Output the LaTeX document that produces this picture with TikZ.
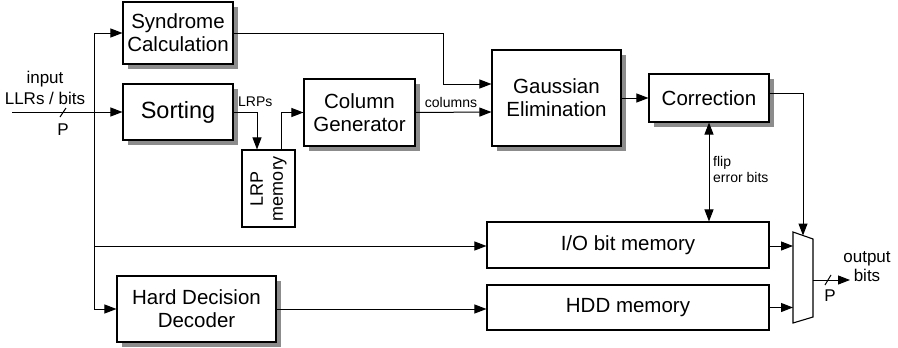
\documentclass[tikz,border=0pt]{standalone}
\usepackage{fontspec}
\setmainfont{Liberation Sans}
\usetikzlibrary{arrows.meta,shadows,calc}
\begin{document}
\begin{tikzpicture}[x=1pt,y=-1pt,
  blk/.style={draw, line width=1.1pt, fill=white, align=center, inner sep=0pt,
    font=\fontsize{20.5}{23}\selectfont,
    drop shadow={shadow xshift=4.5pt, shadow yshift=-4.5pt, fill=black!45, opacity=1}},
  plainblk/.style={draw, line width=1.1pt, fill=white, align=center, inner sep=0pt,
    font=\fontsize{20.5}{23}\selectfont},
  conn/.style={line width=1pt, -{Triangle[length=12pt,width=9pt]}},
  wire/.style={line width=1pt},
  small/.style={font=\fontsize{14}{16.5}\selectfont, inner sep=0pt},
  mid/.style={font=\fontsize{17}{19}\selectfont, inner sep=0pt}]
\useasboundingbox (0,0) rectangle (898,348);

\node[blk, minimum width=110pt, minimum height=62pt] (syn) at (178,33) {Syndrome\\Calculation};
\node[blk, minimum width=110pt, minimum height=56pt, font=\fontsize{23.5}{26}\selectfont] (sort) at (178,112) {Sorting};
\node[plainblk, minimum width=53pt, minimum height=77pt] (lrp) at (268.5,188.5) {};
\node[rotate=90, align=center, inner sep=0pt, font=\fontsize{18}{20}\selectfont] (lrpt) at (lrp.center) {LRP\\memory};
\node[blk, minimum width=111pt, minimum height=67pt] (col) at (359.5,112.5) {Column\\Generator};
\node[blk, minimum width=129pt, minimum height=96pt] (gauss) at (556.5,98) {Gaussian\\Elimination};
\node[blk, minimum width=120pt, minimum height=48pt] (corr) at (709,98) {Correction};
\node[plainblk, minimum width=282pt, minimum height=46pt] (io) at (628,245) {I/O bit memory};
\node[plainblk, minimum width=282pt, minimum height=45pt] (hdd) at (628,307.5) {HDD memory};
\node[blk, minimum width=159pt, minimum height=66pt] (hdec) at (196.5,309) {Hard Decision\\Decoder};

% multiplexer
\draw[line width=1.1pt, fill=white] (793,232) coordinate (mtl) -- (813,239) coordinate (mtr)
  -- (813,317) coordinate (mbr) -- (793,323) coordinate (mbl) -- cycle;
\coordinate (mout) at (813,280);
\coordinate (mtop) at (803,235.5);

% input
\coordinate (in) at (12,112);
\draw[conn] (in) -- (sort.west);
\draw[wire] (60,117) -- (66,108);
\node[mid] (inP) at (63,130) {P};
\node[mid] (inl1) at (45,79) {input};
\node[mid] (inl2) at (45,98) {LLRs / bits};

% bus
\coordinate (bt) at (94,33);
\coordinate (bb) at (94,309);
\draw[wire] (bt) -- (bb);
\draw[conn] (bt) -- (syn.west);
\draw[conn] (bb) -- (hdec.west);
\draw[conn] (94,246) -- (94,246 -| io.west);

% syndrome to gauss
\draw[conn] (syn.east) -- (443,33) |- ([yshift=14pt]gauss.west);
% sorting to LRP memory
\draw[conn] (sort.east) -| ([xshift=-11.5pt]lrp.north);
\node[small, anchor=south west] (lrps) at (238,107) {LRPs};
% LRP memory to column generator
\draw[conn] ([xshift=12.5pt]lrp.north) |- (col.west);
% columns
\draw[conn] (col.east) -- ([yshift=-14pt]gauss.west);
\node[small, anchor=south] (cols) at (451,108) {columns};
% gauss to correction
\draw[conn] (gauss.east) -- (corr.west);
% correction to mux
\draw[conn] ([yshift=5pt]corr.east) -| (mtop);
% flip error bits
\draw[line width=1pt, {Triangle[length=12pt,width=9pt]}-{Triangle[length=12pt,width=9pt]}] (corr.south) -- (corr.south |- io.north);
\node[small, align=left, anchor=north west] (flip) at (713,156) {flip\\error bits};
% memories to mux
\draw[conn] (794,246 -| io.east) -- (mtl |- 0,246);
\draw[conn] (hdd.east) -- (hdd.east -| mtl);
\draw[conn] (hdec.east) -- (hdec.east -| hdd.west);
% output
\coordinate (out) at (850,280);
\draw[conn] (mout) -- (out);
\draw[wire] (825,285) -- (831,275);
\node[mid] (outP) at (830,296) {P};
\node[mid, align=center] (outl) at (867,267) {output\\bits};
\end{tikzpicture}
\end{document}
